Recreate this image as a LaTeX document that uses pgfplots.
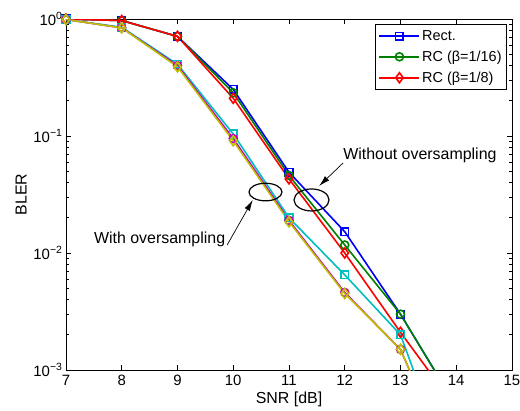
\documentclass[border=0pt]{standalone}
\usepackage{fontspec}
\setmainfont{Liberation Sans}
\usepackage{pgfplots}
\pgfplotsset{compat=1.18}
\usetikzlibrary{arrows.meta}
\definecolor{mgreen}{rgb}{0,0.5,0}
\definecolor{mcyan}{rgb}{0,0.75,0.75}
\definecolor{mmag}{rgb}{0.75,0,0.75}
\definecolor{myel}{rgb}{0.75,0.75,0}
\begin{document}
\begin{tikzpicture}
\useasboundingbox (-66bp,-41bp) rectangle (454bp,370bp);
\begin{axis}[
  scale only axis,
  width=446bp, height=351bp,
  ymode=log,
  xmin=7, xmax=15, ymin=1e-3, ymax=1,
  xtick={7,8,...,15},
  ytick={1e-3,1e-2,1e-1,1},
  yticklabels={10\textsuperscript{−3},10\textsuperscript{−2},10\textsuperscript{−1},10\textsuperscript{0}},
  /pgf/number format/assume math mode=true,
  tick label style={font=\fontsize{15}{17}\selectfont},
  xticklabel style={yshift=-2bp},
  label style={font=\fontsize{16}{18}\selectfont},
  xlabel={SNR [dB]},
  ylabel={BLER},
  xlabel style={yshift=1bp},
  ylabel style={yshift=0bp},
  axis line style={line width=0.8bp},
  tick style={line width=0.6bp, black},
  major tick length=5bp,
  minor tick length=3bp,
  tick align=inside,
  every axis plot/.append style={line width=1.6bp},
  every mark/.append style={solid, line width=1.3bp},
  legend cell align=left,
  legend style={font=\fontsize{14.5}{17}\selectfont, draw=black, line width=0.8bp,
    at={(1,1)}, anchor=north east, xshift=-5bp, yshift=-5bp, row sep=5bp,
    inner xsep=3bp, inner ysep=4bp},
  legend image code/.code={\draw[#1, mark repeat=2, mark phase=2] plot coordinates {(0bp,0bp) (20bp,0bp) (40bp,0bp)};},
]
\addplot[blue, mark=square, mark size=3.8bp] coordinates {(7,1.0)(8,0.97)(9,0.71)(10,0.25)(11,0.049)(12,0.0152)(13,0.0030)(14,4.9e-4)};
\addlegendentry{Rect.}
\addplot[mgreen, mark=o, mark size=4bp] coordinates {(7,1.0)(8,0.97)(9,0.71)(10,0.234)(11,0.046)(12,0.0117)(13,0.0030)(14,4.9e-4)};
\addlegendentry{RC (β=1/16)}
\addplot[red, mark=diamond, mark size=5bp] coordinates {(7,1.0)(8,0.97)(9,0.71)(10,0.21)(11,0.043)(12,0.0100)(13,0.0021)(14,4.7e-4)};
\addlegendentry{RC (β=1/8)}
\addplot[mcyan, mark=square, mark size=3.8bp, forget plot] coordinates {(7,0.99)(8,0.85)(9,0.41)(10,0.104)(11,0.020)(12,0.0065)(13,0.0020)(14,1.0e-4)};
\addplot[mmag, mark=o, mark size=4bp, forget plot] coordinates {(7,0.99)(8,0.84)(9,0.40)(10,0.095)(11,0.019)(12,0.0046)(13,0.0015)(14,1.2e-4)};
\addplot[myel, mark=diamond, mark size=5bp, forget plot] coordinates {(7,0.99)(8,0.84)(9,0.39)(10,0.091)(11,0.0185)(12,0.0045)(13,0.0015)(14,1.2e-4)};
\draw[black, line width=1.2bp] (axis cs:10.578,0.0332) ellipse [x radius=16.5bp, y radius=8.8bp];
\draw[black, line width=1.2bp] (axis cs:11.404,0.0284) ellipse [x radius=17.5bp, y radius=11bp];
\draw[black, line width=0.7bp, -{Latex[length=11bp,width=6bp]}] (axis cs:11.97,0.0588) -- (axis cs:11.54,0.0374);
\draw[black, line width=0.7bp, -{Latex[length=11bp,width=6bp]}] (axis cs:9.89,0.0117) -- (axis cs:10.35,0.0284);
\node[anchor=west, inner sep=0pt, font=\fontsize{16}{18}\selectfont] at (axis cs:11.97,0.0688) {Without oversampling};
\node[anchor=west, inner sep=0pt, font=\fontsize{16}{18}\selectfont] at (axis cs:7.50,0.0132) {With oversampling};
\end{axis}
\end{tikzpicture}
\end{document}
